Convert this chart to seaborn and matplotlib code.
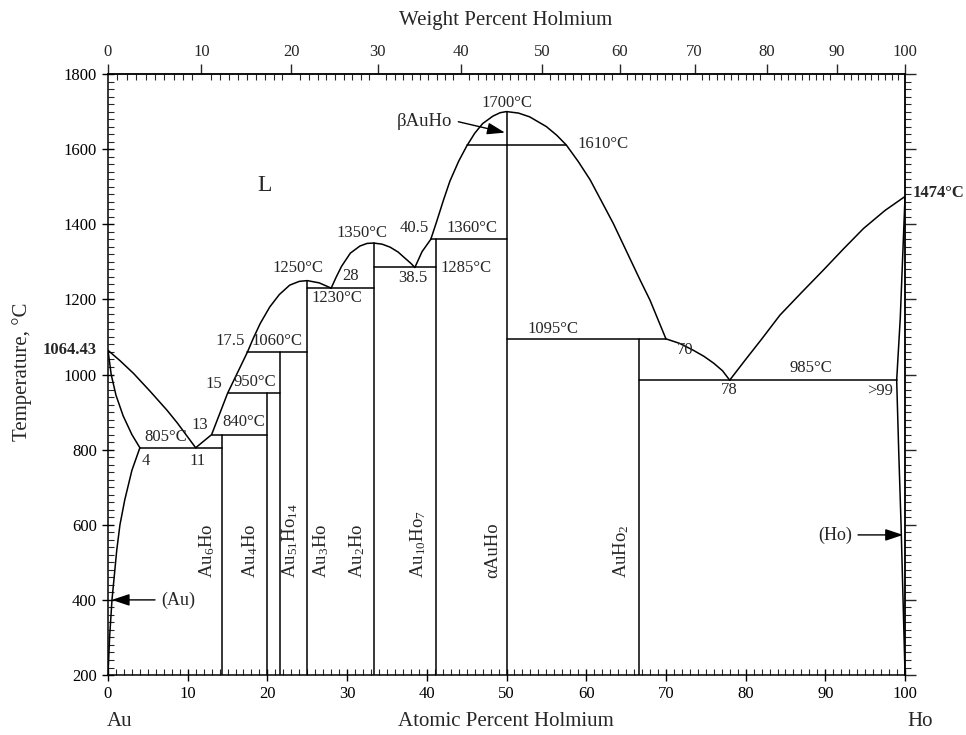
import numpy as np
import pandas as pd
import seaborn as sns
import matplotlib.pyplot as plt
from matplotlib.ticker import MultipleLocator, FixedLocator

# phase boundaries, atomic % Ho vs temperature (deg C)
au_liq_x = [0, 1.5, 3.2, 5.3, 7.4, 8.7, 11]
au_liq_y = [1064.43, 1037, 1003, 955, 905, 871, 805]
au_sol_x = [0, 0.4, 1.0, 1.9, 3.0, 4]
au_sol_y = [1064.43, 1000, 945, 890, 840, 805]
au_solv_x = [4, 3.5, 3.0, 2.1, 1.5, 1.1, 0.5, 0.2, 0]
au_solv_y = [805, 775, 745, 666, 600, 533, 400, 300, 200]
liq1_x = [11, 13, 15, 17.5]
liq1_y = [805, 840, 950, 1060]
liq2_x = [17.5, 18.2, 19.1, 20.3, 21.5, 22.8, 24, 25, 26.5, 28]
liq2_y = [1060, 1095, 1136, 1180, 1213, 1238, 1248, 1250, 1244, 1230]
liq3_x = [28, 28.6, 29.3, 30.4, 31.6, 32.5, 33.33, 34.4, 35.4, 36.4, 37.3, 38.0, 38.5]
liq3_y = [1230, 1258, 1288, 1323, 1342, 1349, 1350, 1347, 1339, 1326, 1309, 1296, 1285]
liq4_x = [38.5, 39.4, 40.5]
liq4_y = [1285, 1327, 1360]
dome_x = [40.5, 41.2, 42.1, 42.9, 44, 45, 46, 47, 48.3, 49.2, 50,
          51.5, 52.9, 55, 56.3, 57.5, 59, 60.5, 63.4, 66.75, 68, 70]
dome_y = [1360, 1405, 1465, 1515, 1568, 1608, 1642, 1668, 1688, 1697, 1700,
          1696, 1686, 1660, 1637, 1611, 1567, 1518, 1402, 1252, 1198, 1095]
liq5_x = [70, 71.7, 73.4, 74.8, 76, 77.1, 78]
liq5_y = [1095, 1083, 1065, 1048, 1030, 1010, 985]
liq6_x = [78, 80, 82, 84.3, 87, 89.75, 92.3, 94.8, 97.5, 100]
liq6_y = [985, 1040, 1094, 1158, 1218, 1278, 1335, 1389, 1437, 1474]
ho_sol_x = [100, 99.4, 98.95]
ho_sol_y = [1474, 1150, 985]
ho_solv_x = [98.95, 99.2, 99.5, 99.75, 100]
ho_solv_y = [985, 800, 600, 400, 200]

# invariant isotherms: left end, right end, temperature
iso_x1 = [4, 13, 15, 17.5, 25, 33.33, 40.5, 45, 50, 66.67]
iso_x2 = [14.29, 20, 21.54, 25, 33.33, 41.18, 50, 57.5, 70, 98.95]
iso_t = [805, 840, 950, 1060, 1230, 1285, 1360, 1610, 1095, 985]

# line compounds: composition, top temperature, name
cmp_x = [14.29, 20, 21.54, 25, 33.33, 41.18, 50, 66.67]
cmp_top = [840, 950, 1060, 1250, 1350, 1360, 1700, 1095]
cmp_names = [r'Au$_\mathrm{6}$Ho', r'Au$_\mathrm{4}$Ho', r'Au$_\mathrm{51}$Ho$_\mathrm{14}$',
             r'Au$_\mathrm{3}$Ho', r'Au$_\mathrm{2}$Ho', r'Au$_\mathrm{10}$Ho$_\mathrm{7}$',
             'αAuHo', r'AuHo$_\mathrm{2}$']
cmp_lab_x = [12.4, 17.8, 22.8, 26.8, 31.2, 38.9, 48.3, 64.4]

# point labels (text, x, y)
labels = [
    ('805°C', 7.2, 834), ('4', 4.8, 770), ('11', 11.2, 770),
    ('13', 11.5, 865), ('840°C', 17.0, 873), ('15', 13.3, 975),
    ('950°C', 18.4, 980), ('17.5', 15.3, 1089), ('1060°C', 21.2, 1089),
    ('1250°C', 23.8, 1283), ('28', 30.4, 1262), ('1230°C', 28.7, 1204),
    ('1350°C', 31.9, 1377), ('40.5', 38.4, 1390), ('1360°C', 45.7, 1390),
    ('38.5', 38.3, 1257), ('1285°C', 44.9, 1283), ('1700°C', 50.1, 1723),
    ('1610°C', 62.1, 1614), ('1095°C', 55.8, 1121), ('70', 72.4, 1065),
    ('78', 78.0, 959), ('985°C', 88.2, 1017), ('>99', 96.9, 956),
]

M_AU, M_HO = 196.97, 164.93


def at2wt(a):
    a = np.asarray(a, dtype=float)
    return 100 * a * M_HO / (a * M_HO + (100 - a) * M_AU)


def wt2at(w):
    w = np.asarray(w, dtype=float)
    return 100 * (w / M_HO) / (w / M_HO + (100 - w) / M_AU)


sns.set_theme(style='ticks')
plt.rcParams['font.family'] = ['Liberation Serif', 'DejaVu Serif']
plt.rcParams['mathtext.fontset'] = 'custom'
plt.rcParams['mathtext.rm'] = 'Liberation Serif'
plt.rcParams['mathtext.it'] = 'Liberation Serif:italic'
plt.rcParams['axes.linewidth'] = 1.1

curves = [(au_liq_x, au_liq_y), (au_sol_x, au_sol_y), (au_solv_x, au_solv_y),
          (liq1_x, liq1_y), (liq2_x, liq2_y), (liq3_x, liq3_y),
          (liq4_x, liq4_y), (dome_x, dome_y), (liq5_x, liq5_y),
          (liq6_x, liq6_y), (ho_sol_x, ho_sol_y), (ho_solv_x, ho_solv_y)]
rows = []
seg = 0
for xs, ys in curves:
    rows += [(seg, x, y) for x, y in zip(xs, ys)]
    seg += 1
for x1, x2, t in zip(iso_x1, iso_x2, iso_t):
    rows += [(seg, x1, t), (seg, x2, t)]
    seg += 1
for x, top in zip(cmp_x, cmp_top):
    rows += [(seg, x, 200), (seg, x, top)]
    seg += 1
df = pd.DataFrame(rows, columns=['seg', 'at', 'T'])

fig = plt.figure(figsize=(9.66, 7.35), dpi=100)
ax = fig.add_axes([0.1118, 0.0816, 0.8251, 0.8177])
sns.lineplot(data=df, x='at', y='T', units='seg', estimator=None, sort=False,
             color='black', lw=1.1, ax=ax, legend=False)

ax.set_xlim(0, 100)
ax.set_ylim(200, 1800)
ax.set_xlabel('')
ax.set_ylabel('')
ax.xaxis.set_major_locator(MultipleLocator(10))
ax.xaxis.set_minor_locator(MultipleLocator(1))
ax.yaxis.set_major_locator(MultipleLocator(200))
ax.yaxis.set_minor_locator(MultipleLocator(20))
ax.tick_params(which='major', direction='inout', length=8, width=1, labelsize=12, pad=4, colors='black')
ax.tick_params(which='minor', direction='in', length=4, width=0.8)
for s in ax.spines.values():
    s.set_color('black')

top = ax.secondary_xaxis('top', functions=(at2wt, wt2at))
top.xaxis.set_major_locator(FixedLocator(np.arange(0, 101, 10)))
top.xaxis.set_minor_locator(FixedLocator(np.arange(0, 101, 1)))
top.tick_params(which='major', direction='out', length=7, width=1, labelsize=12, pad=3)
top.tick_params(which='minor', direction='in', length=4, width=0.8)

right = ax.secondary_yaxis('right')
right.yaxis.set_major_locator(MultipleLocator(200))
right.yaxis.set_minor_locator(MultipleLocator(20))
right.tick_params(which='major', direction='out', length=8, width=1, labelright=False)
right.tick_params(which='minor', direction='out', length=4, width=0.8)

# compound labels
for name, lx in zip(cmp_names, cmp_lab_x):
    ax.text(lx, 458, name, rotation=90, ha='center', va='bottom', fontsize=13.5)

for txt, x, y in labels:
    ax.text(x, y, txt, ha='center', va='center', fontsize=12)

ax.text(19.7, 1502, 'L', ha='center', va='center', fontsize=17)
ax.text(-1.4, 1064.43, '1064.43', ha='right', va='center', fontsize=12, fontweight='bold')
ax.text(101.0, 1483, '1474°C', ha='left', va='center', fontsize=12, fontweight='bold')

arrow = dict(arrowstyle='-|>,head_length=0.9,head_width=0.3', color='black', lw=1.0, shrinkA=0, shrinkB=0)
ax.annotate('', xy=(49.8, 1644), xytext=(43.95, 1673), arrowprops=arrow)
ax.text(39.7, 1673, 'βAuHo', ha='center', va='center', fontsize=13.5)
ax.annotate('', xy=(0.47, 400), xytext=(5.9, 400), arrowprops=arrow)
ax.text(8.8, 400, '(Au)', ha='center', va='center', fontsize=13)
ax.annotate('', xy=(99.75, 573), xytext=(94.1, 573), arrowprops=arrow)
ax.text(91.2, 573, '(Ho)', ha='center', va='center', fontsize=13)

fig.text(506 / 966, 1 - 20 / 735, 'Weight Percent Holmium', ha='center', va='center', fontsize=15)
fig.text(506 / 966, 1 - 722 / 735, 'Atomic Percent Holmium', ha='center', va='center', fontsize=15)
fig.text(120 / 966, 1 - 722 / 735, 'Au', ha='center', va='center', fontsize=15)
fig.text(920 / 966, 1 - 722 / 735, 'Ho', ha='center', va='center', fontsize=15)
fig.text(22 / 966, 1 - 372 / 735, 'Temperature, °C', rotation=90, ha='center', va='center', fontsize=15)

fig.savefig('out.png', dpi=100)
